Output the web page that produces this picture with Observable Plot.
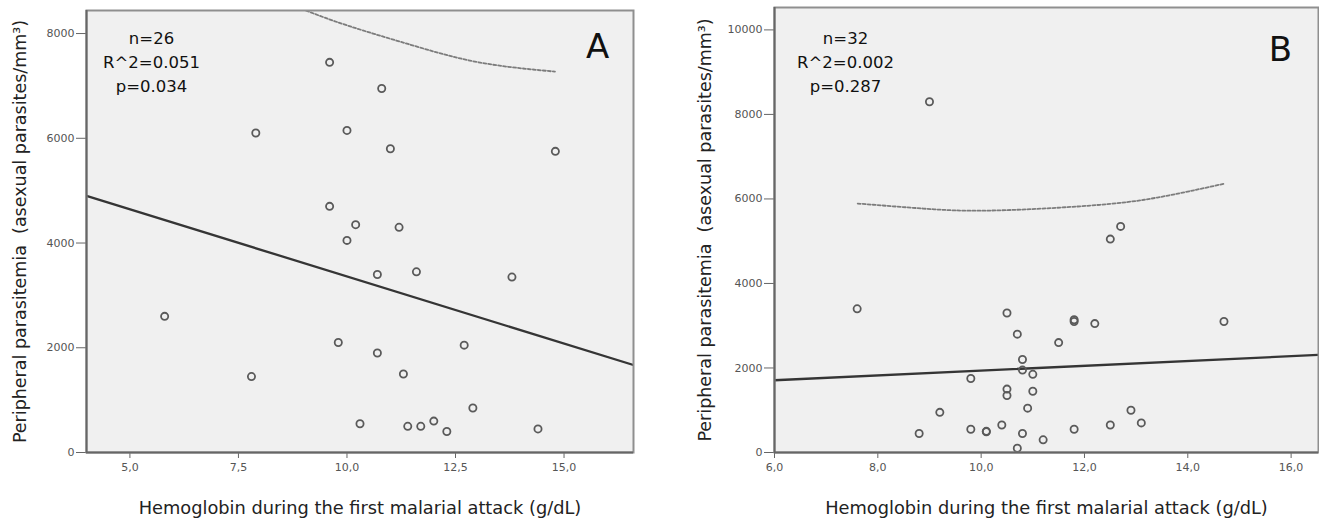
<!DOCTYPE html>
<html><head><meta charset="utf-8">
<script src="https://cdn.jsdelivr.net/npm/d3@7"></script>
<script src="https://cdn.jsdelivr.net/npm/@observablehq/plot@0.6"></script>
<style>
body{margin:0;background:#fff;}
#wrap{position:relative;width:1319px;height:520px;overflow:hidden;}
.panel{position:absolute;top:0;}
</style>
</head><body>
<div id="wrap"><div id="pa" class="panel" style="left:0"></div><div id="pb" class="panel" style="left:660px"></div></div>
<script>
// ---- Panel A data ----
const hbA  = [9.6,10.8,7.9,10.0,11.0,14.8,9.6,10.2,11.2,10.0,10.7,11.6,13.8,5.8,9.8,12.7,10.7,11.3,7.8,12.9,10.3,11.4,11.7,12.0,12.3,14.4];
const parA = [7450,6950,6100,6150,5800,5750,4700,4350,4300,4050,3400,3450,3350,2600,2100,2050,1900,1500,1450,850,550,500,500,600,400,450];
const fitAx = [4.0, 16.6];
const fitAy = [4900, 1670];
const bandAx = [9.06, 10.02, 11.53, 13.07, 14.79];
const bandAy = [8438, 8151, 7770, 7445, 7273];
const xTicksA = [5, 7.5, 10, 12.5, 15];
const xLabelsA = ["5,0", "7,5", "10,0", "12,5", "15,0"];
const yTicksA = [0, 2000, 4000, 6000, 8000];
const statsA = ["n=26", "R^2=0.051", "p=0.034"];

// ---- Panel B data ----
const hbB  = [9.0,12.5,12.7,7.6,10.5,11.8,11.8,12.2,14.7,10.7,11.5,10.8,10.8,11.0,9.8,10.5,10.5,11.0,10.9,9.2,12.9,13.1,10.4,12.5,8.8,9.8,10.1,10.1,10.8,11.8,11.2,10.7];
const parB = [8300,5050,5350,3400,3300,3140,3100,3050,3100,2800,2600,2200,1950,1850,1750,1500,1350,1450,1050,950,1000,700,650,650,450,550,500,490,450,550,300,100];
const fitBx = [6.0, 16.53];
const fitBy = [1710, 2310];
const bandBx = [7.61, 8.88, 10.18, 12.11, 13.41, 14.72];
const bandBy = [5891, 5772, 5725, 5843, 6033, 6364];
const xTicksB = [6, 8, 10, 12, 14, 16];
const xLabelsB = ["6,0", "8,0", "10,0", "12,0", "14,0", "16,0"];
const yTicksB = [0, 2000, 4000, 6000, 8000, 10000];
const statsB = ["n=32", "R^2=0.002", "p=0.287"];

const xTitle = "Hemoglobin during the first malarial attack (g/dL)";
const yTitle = "Peripheral parasitemia  (asexual parasites/mm³)";

const FONT = "DejaVu Sans";

function panel(cfg) {
  const pts = cfg.hb.map((h, i) => ({h, p: cfg.par[i]}));
  const fit = cfg.fitx.map((x, i) => ({x, y: cfg.fity[i]}));
  const band = cfg.bandx.map((x, i) => ({x, y: cfg.bandy[i]}));
  return Plot.plot({
    width: cfg.width, height: 520,
    marginLeft: cfg.ml, marginRight: cfg.mr, marginTop: cfg.mt, marginBottom: 68,
    style: {fontFamily: FONT, background: "transparent", overflow: "visible"},
    x: {domain: cfg.xdom},
    y: {domain: cfg.ydom},
    marks: [
      Plot.frame({fill: "#f0f0f0", stroke: null}),
      Plot.axisY({ticks: cfg.yticks, tickFormat: d => String(d), tickSize: 10, tickPadding: 2,
                  stroke: "#666", fill: "#555", fontSize: 11, label: null}),
      Plot.axisX({ticks: cfg.xticks, tickFormat: d => cfg.xlabels[cfg.xticks.indexOf(d)], tickSize: 6, tickPadding: 5,
                  stroke: "#666", fill: "#555", fontSize: 11, label: null}),
      Plot.line(band, {x: "x", y: "y", curve: "natural", stroke: "#7c7c7c", strokeWidth: 1.8,
                       strokeDasharray: "3,2", clip: true}),
      Plot.line(fit, {x: "x", y: "y", stroke: "#353535", strokeWidth: 2.3, clip: true}),
      Plot.dot(pts, {x: "h", y: "p", r: 3.6, stroke: "#5a5a5a", strokeWidth: 1.8, fill: "none"}),
      Plot.frame({stroke: "#8f8f8f", strokeWidth: 2}),
      Plot.ruleY([cfg.ydom[0]], {stroke: "#666", strokeWidth: 2}),
      Plot.ruleX([cfg.xdom[0]], {stroke: "#666", strokeWidth: 2}),
      Plot.text([cfg.stats.join("\n")], {frameAnchor: "top-left", dx: cfg.sdx, dy: cfg.sdy,
                  textAnchor: "middle", lineAnchor: "top", lineHeight: 1.45, fontSize: 16.5, fill: "#111"}),
      Plot.text([cfg.letter], {frameAnchor: "top-right", dx: cfg.ldx, dy: cfg.ldy,
                  textAnchor: "middle", lineAnchor: "middle", fontSize: 34, fill: "#111"}),
      Plot.text([yTitle], {frameAnchor: "left", rotate: -90, dx: cfg.ytdx, textAnchor: "middle",
                  fontSize: 17.5, fill: "#222"}),
      Plot.text([xTitle], {frameAnchor: "bottom", dy: 56, textAnchor: "middle", lineAnchor: "middle",
                  fontSize: 17.8, fill: "#222"})
    ]
  });
}

document.getElementById("pa").append(panel({
  width: 660, ml: 86, mr: 27, mt: 10,
  xdom: [4.0, 16.6], ydom: [0, 8440],
  hb: hbA, par: parA, fitx: fitAx, fity: fitAy, bandx: bandAx, bandy: bandAy,
  xticks: xTicksA, xlabels: xLabelsA, yticks: yTicksA, stats: statsA,
  sdx: 65, sdy: 17, letter: "A", ldx: -36, ldy: 37, ytdx: -66
}));
document.getElementById("pb").append(panel({
  width: 659, ml: 114, mr: 1, mt: 7,
  xdom: [6.0, 16.53], ydom: [0, 10530],
  hb: hbB, par: parB, fitx: fitBx, fity: fitBy, bandx: bandBx, bandy: bandBy,
  xticks: xTicksB, xlabels: xLabelsB, yticks: yTicksB, stats: statsB,
  sdx: 71, sdy: 20, letter: "B", ldx: -38, ldy: 43, ytdx: -69
}));
</script>
</body></html>
